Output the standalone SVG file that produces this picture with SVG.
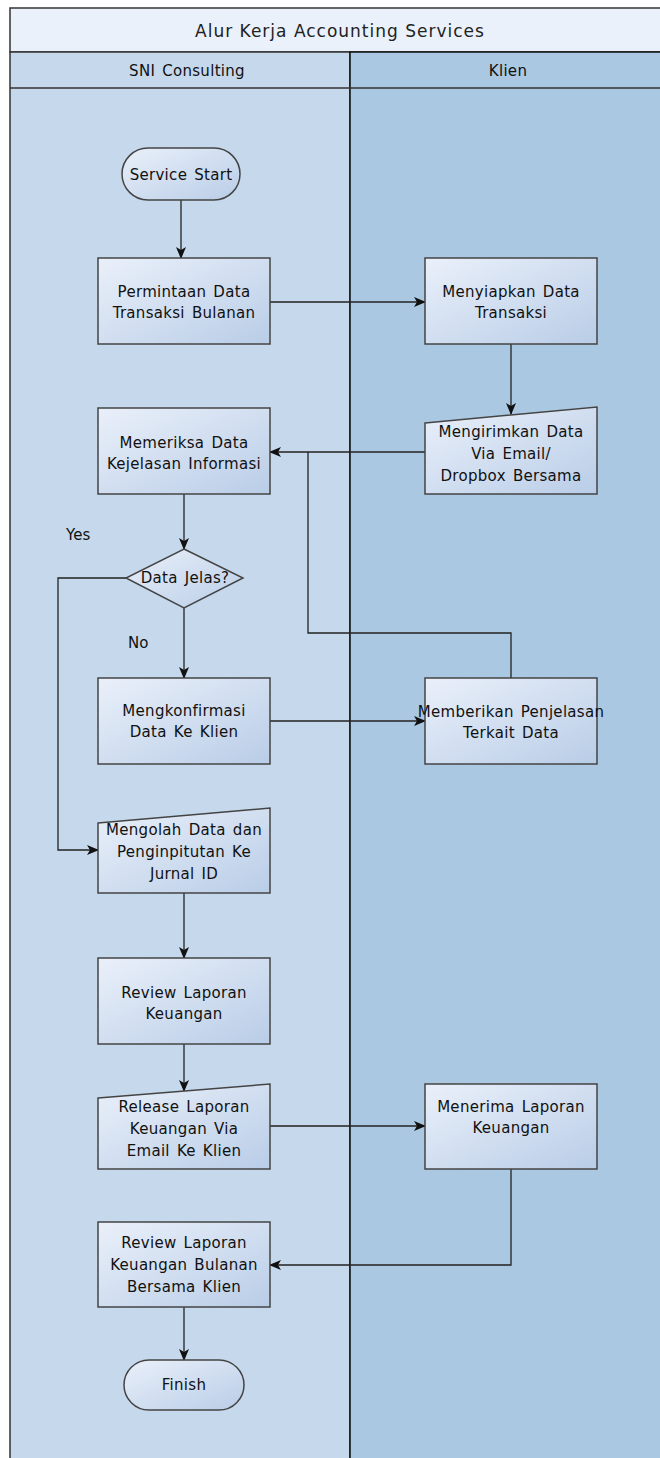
<svg xmlns="http://www.w3.org/2000/svg" width="660" height="1458" viewBox="0 0 660 1458">
<defs>
<linearGradient id="ng" x1="0" y1="0" x2="1" y2="1">
<stop offset="0" stop-color="#EAF0FA"/>
<stop offset="1" stop-color="#B9CDE7"/>
</linearGradient>
<marker id="ah" viewBox="0 0 12 10" refX="11" refY="5" markerWidth="12" markerHeight="10" markerUnits="userSpaceOnUse" orient="auto">
<path d="M0,0 L12,5 L0,10 L3,5 Z" fill="#111"/>
</marker>
</defs>
<style>
.node{fill:url(#ng);stroke:#444;stroke-width:1.5}
.t{font-family:"DejaVu Sans",sans-serif;font-size:15px;fill:#111;text-anchor:middle;word-spacing:2px;letter-spacing:0.3px}
.lbl{font-family:"DejaVu Sans",sans-serif;font-size:15px;fill:#111}
.conn path{fill:none;stroke:#222;stroke-width:1.3}
.arr{marker-end:url(#ah)}
</style>
<rect width="660" height="1458" fill="#fff"/>
<g id="pool">
<rect x="10" y="8" width="660" height="44" fill="#EAF1FB" stroke="#333" stroke-width="1.5"/>
<rect x="10" y="52" width="340" height="1420" fill="#C5D8EC" stroke="#333" stroke-width="1.5"/>
<rect x="350" y="52" width="320" height="1420" fill="#AAC8E2" stroke="#111" stroke-width="1.5"/>
<line x1="10" y1="88" x2="660" y2="88" stroke="#333" stroke-width="1.5"/>
<text x="340" y="37" style="font-family:'DejaVu Sans',sans-serif;font-size:17px;fill:#222;letter-spacing:1px" text-anchor="middle">Alur Kerja Accounting Services</text>
<text x="187" y="76" class="t">SNI Consulting</text>
<text x="508" y="76" class="t">Klien</text>
</g>
<g class="conn" id="connectors">
<path class="arr" d="M181,200 L181,258"/>
<path class="arr" d="M270,302 L425,302"/>
<path class="arr" d="M511,344 L511,414"/>
<path class="arr" d="M425,452 L270,452"/>
<path class="arr" d="M184,494 L184,549"/>
<path class="arr" d="M184,608 L184,678"/>
<path class="arr" d="M126,578 L58,578 L58,850 L98,850"/>
<path class="arr" d="M270,721 L425,721"/>
<path d="M511,678 L511,633 L308,633 L308,452"/>
<path class="arr" d="M184,893 L184,958"/>
<path class="arr" d="M184,1044 L184,1091"/>
<path class="arr" d="M270,1126 L425,1126"/>
<path class="arr" d="M511,1169 L511,1265 L270,1265"/>
<path class="arr" d="M184,1307 L184,1360"/>
<text x="66" y="540" class="lbl">Yes</text>
<text x="128" y="648" class="lbl">No</text>
</g>
<g id="start">
<rect x="122" y="148" width="118" height="52" rx="26" class="node"/>
<text x="181" y="180" class="t">Service Start</text>
</g>
<g id="permintaan">
<rect x="98" y="258" width="172" height="86" class="node"/>
<text x="184" y="297" class="t">Permintaan Data</text>
<text x="184" y="318" class="t">Transaksi Bulanan</text>
</g>
<g id="menyiapkan">
<rect x="425" y="258" width="172" height="86" class="node"/>
<text x="511" y="297" class="t">Menyiapkan Data</text>
<text x="511" y="318" class="t">Transaksi</text>
</g>
<g id="mengirimkan">
<path d="M425,423 L597,407 L597,494 L425,494 Z" class="node"/>
<text x="511" y="437" class="t">Mengirimkan Data</text>
<text x="511" y="459" class="t">Via Email/</text>
<text x="511" y="481" class="t">Dropbox Bersama</text>
</g>
<g id="memeriksa">
<rect x="98" y="408" width="172" height="86" class="node"/>
<text x="184" y="448" class="t">Memeriksa Data</text>
<text x="184" y="469" class="t">Kejelasan Informasi</text>
</g>
<g id="decision">
<path d="M184,549 L243,578 L184,608 L126,578 Z" class="node"/>
<text x="185" y="583" class="t">Data Jelas?</text>
</g>
<g id="mengkonfirmasi">
<rect x="98" y="678" width="172" height="86" class="node"/>
<text x="184" y="716" class="t">Mengkonfirmasi</text>
<text x="184" y="737" class="t">Data Ke Klien</text>
</g>
<g id="memberikan">
<rect x="425" y="678" width="172" height="86" class="node"/>
<text x="511" y="717" class="t">Memberikan Penjelasan</text>
<text x="511" y="738" class="t">Terkait Data</text>
</g>
<g id="mengolah">
<path d="M98,823 L270,808 L270,893 L98,893 Z" class="node"/>
<text x="184" y="835" class="t">Mengolah Data dan</text>
<text x="184" y="857" class="t">Penginpitutan Ke</text>
<text x="184" y="879" class="t">Jurnal ID</text>
</g>
<g id="review1">
<rect x="98" y="958" width="172" height="86" class="node"/>
<text x="184" y="998" class="t">Review Laporan</text>
<text x="184" y="1019" class="t">Keuangan</text>
</g>
<g id="release">
<path d="M98,1098 L270,1084 L270,1169 L98,1169 Z" class="node"/>
<text x="184" y="1112" class="t">Release Laporan</text>
<text x="184" y="1134" class="t">Keuangan Via</text>
<text x="184" y="1156" class="t">Email Ke Klien</text>
</g>
<g id="menerima">
<rect x="425" y="1084" width="172" height="85" class="node"/>
<text x="511" y="1112" class="t">Menerima Laporan</text>
<text x="511" y="1133" class="t">Keuangan</text>
</g>
<g id="review2">
<rect x="98" y="1222" width="172" height="85" class="node"/>
<text x="184" y="1248" class="t">Review Laporan</text>
<text x="184" y="1270" class="t">Keuangan Bulanan</text>
<text x="184" y="1292" class="t">Bersama Klien</text>
</g>
<g id="finish">
<rect x="124" y="1360" width="120" height="50" rx="25" class="node"/>
<text x="184" y="1390" class="t">Finish</text>
</g>
</svg>
